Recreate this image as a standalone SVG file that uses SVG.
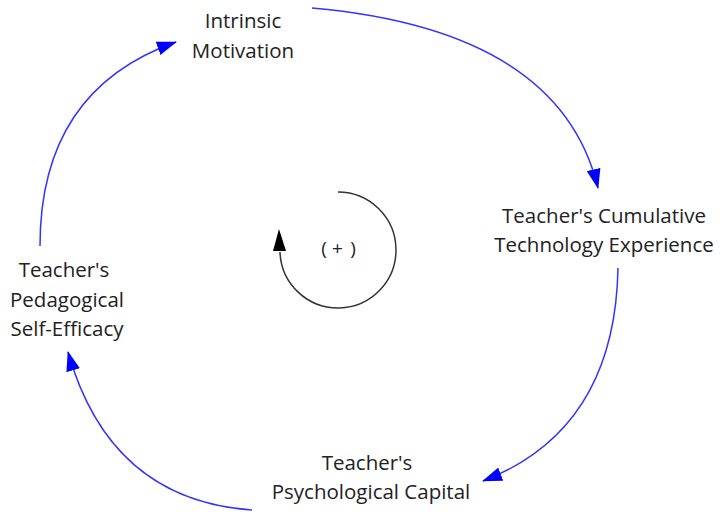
<svg xmlns="http://www.w3.org/2000/svg" width="720" height="514" viewBox="0 0 720 514">
<defs>
<marker id="ab" viewBox="0 0 20 14" refX="19" refY="7" markerWidth="20" markerHeight="14" markerUnits="userSpaceOnUse" orient="auto">
<path d="M0,0 L20,7 L0,14 Z" fill="#0000ff"/>
</marker>
</defs>
<style>
.lbl{font-family:"Open Sans","Noto Sans",sans-serif;font-size:20.5px;fill:#222;text-anchor:middle}
.conn{fill:none;stroke:#3333ff;stroke-width:1.5}
</style>
<rect width="720" height="514" fill="#fff"/>
<g id="connectors">
<path class="conn" d="M312,8 Q560,30 598,188" marker-end="url(#ab)"/>
<path class="conn" d="M618,268 Q615,430 483,481" marker-end="url(#ab)"/>
<path class="conn" d="M252,510 Q110,500 68,352" marker-end="url(#ab)"/>
<path class="conn" d="M40,246 Q40,90 176,42" marker-end="url(#ab)"/>
</g>
<g id="loop">
<path d="M338,192 A58,58 0 1 1 280,252" fill="none" stroke="#333" stroke-width="1.5"/>
<path d="M279,229 L273,251 L286,251 Z" fill="#000"/>
<text x="324 337.5 353" y="255" font-family="'Open Sans',sans-serif" font-size="19" fill="#222" text-anchor="middle">(+)</text>
</g>
<g id="intrinsic">
<text class="lbl" x="243" y="28">Intrinsic</text>
<text class="lbl" x="243" y="58">Motivation</text>
</g>
<g id="experience">
<text class="lbl" x="604" y="223">Teacher's Cumulative</text>
<text class="lbl" x="604" y="252">Technology Experience</text>
</g>
<g id="capital">
<text class="lbl" x="367" y="470">Teacher's</text>
<text class="lbl" x="371" y="499">Psychological Capital</text>
</g>
<g id="efficacy">
<text class="lbl" x="64" y="277">Teacher's</text>
<text class="lbl" x="67" y="307">Pedagogical</text>
<text class="lbl" x="67" y="336">Self-Efficacy</text>
</g>
</svg>
